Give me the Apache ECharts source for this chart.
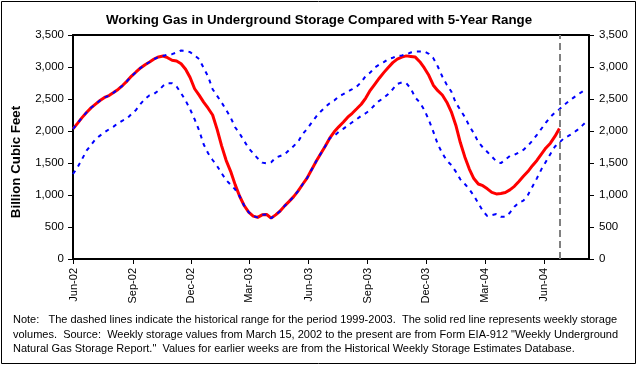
<!DOCTYPE html>
<html>
<head>
<meta charset="utf-8">
<script src="https://cdn.jsdelivr.net/npm/echarts@6/dist/echarts.min.js"></script>
<style>
html,body{margin:0;padding:0;background:#fff;}
#chart{width:638px;height:366px;}
</style>
</head>
<body>
<div id="chart"></div>
<script>
// ---- data (Bcf), weekly, week-ending Fridays starting 2002-05-31 ----
const firstWeekEnding = '2002-05-31';

const storage = [
  2033, 2120, 2209, 2290, 2362, 2420, 2477, 2524, 2553, 2600,
  2649, 2710, 2780, 2858, 2922, 2985, 3036, 3078, 3125, 3157,
  3172, 3145, 3106, 3093, 3050, 2965, 2835, 2660, 2560, 2452,
  2356, 2250, 2025, 1768, 1542, 1370, 1162, 980, 836, 732,
  670, 650, 690, 695, 638, 690, 750, 830, 900, 975,
  1065, 1168, 1268, 1397, 1528, 1646, 1762, 1888, 1987, 2065,
  2136, 2215, 2277, 2347, 2418, 2515, 2635, 2730, 2825, 2912,
  2993, 3068, 3124, 3155, 3174, 3165, 3155, 3083, 2985, 2870,
  2715, 2630, 2562, 2450, 2300, 2090, 1820, 1595, 1405, 1257,
  1172, 1145, 1097, 1040, 1017, 1023, 1039, 1080, 1135, 1212,
  1292, 1366, 1458, 1540, 1640, 1735, 1810, 1915, 2040
];

const rangeMax = [
  2033, 2120, 2209, 2290, 2362, 2420, 2477, 2524, 2553, 2600,
  2649, 2710, 2780, 2858, 2922, 2985, 3036, 3078, 3125, 3157,
  3172, 3196, 3201, 3227, 3258, 3253, 3232, 3180, 3125, 2987,
  2852, 2653, 2549, 2445, 2330, 2210, 2059, 1960, 1845, 1730,
  1652, 1573, 1506, 1495, 1511, 1584, 1610, 1636, 1704, 1766,
  1834, 1954, 2033, 2132, 2226, 2304, 2372, 2434, 2476, 2539,
  2575, 2617, 2653, 2695, 2763, 2862, 2914, 2992, 3039, 3076,
  3123, 3144, 3175, 3180, 3196, 3227, 3243, 3243, 3243, 3206,
  3139, 3008, 2852, 2721, 2617, 2440, 2330, 2218, 2078, 1965,
  1826, 1743, 1672, 1600, 1524, 1498, 1552, 1610, 1628, 1665,
  1704, 1770, 1850, 1940, 2035, 2130, 2220, 2288, 2340, 2403,
  2460, 2513, 2565, 2612, 2664
];

const rangeMin = [
  1328, 1432, 1558, 1693, 1782, 1871, 1928, 1980, 2027, 2069,
  2121, 2163, 2194, 2267, 2330, 2424, 2502, 2560, 2580, 2632,
  2706, 2747, 2747, 2695, 2591, 2476, 2340, 2184, 2010, 1793,
  1652, 1547, 1453, 1339, 1234, 1161, 1088, 980, 836, 732,
  670, 650, 690, 695, 638, 690, 750, 830, 900, 975,
  1065, 1168, 1268, 1397, 1528, 1646, 1762, 1888, 1925, 1986,
  2033, 2085, 2137, 2184, 2236, 2278, 2330, 2408, 2471, 2518,
  2580, 2653, 2737, 2758, 2747, 2664, 2523, 2445, 2330, 2173,
  1991, 1793, 1652, 1537, 1469, 1365, 1245, 1172, 1088, 989,
  869, 750, 671, 686, 702, 660, 660, 723, 817, 880,
  911, 1000, 1130, 1260, 1401, 1521, 1641, 1756, 1819, 1887,
  1923, 1965, 2017, 2080, 2147
];

const tickDates = ['2002-06-01','2002-09-01','2002-12-01','2003-03-01','2003-06-01',
                   '2003-09-01','2003-12-01','2004-03-01','2004-06-01'];
const monthNames = ['Jan','Feb','Mar','Apr','May','Jun','Jul','Aug','Sep','Oct','Nov','Dec'];
const axisStart = '2002-05-31';
const axisEnd = '2004-08-10';

const titleText = 'Working Gas in Underground Storage Compared with 5-Year Range';
const yName = 'Billion Cubic Feet';
const noteLines = [
  'Note:   The dashed lines indicate the historical range for the period 1999-2003.  The solid red line represents weekly storage',
  'volumes.  Source:  Weekly storage values from March 15, 2002 to the present are from Form EIA-912 "Weekly Underground',
  'Natural Gas Storage Report."  Values for earlier weeks are from the Historical Weekly Storage Estimates Database.'
];

// ---- build ----
const DAY = 86400000;
function utc(s){ const p = s.split('-').map(Number); return Date.UTC(p[0], p[1]-1, p[2]); }
const t0 = utc(firstWeekEnding);
function weekDate(i){ return t0 + i * 7 * DAY; }
function pairs(arr){ return arr.map((v, i) => [weekDate(i), v]); }
const tickVals = tickDates.map(utc);
const FONT = '"Liberation Sans", Arial, sans-serif';
function fmtNum(v){ return String(v).replace(/\B(?=(\d{3})+(?!\d))/g, ','); }
function fmtDate(v){ const d = new Date(v); return monthNames[d.getUTCMonth()] + '-' + String(d.getUTCFullYear()).slice(2); }

const chart = echarts.init(document.getElementById('chart'), null, {renderer: 'canvas'});

const yAxisCommon = {
  type: 'value', min: 0, max: 3500, interval: 500,
  axisLine: {show: true, lineStyle: {color: '#000', width: 2}},
  axisTick: {show: true, length: 5, lineStyle: {color: '#000', width: 1}},
  axisLabel: {color: '#000', fontSize: 11.5, fontFamily: FONT, margin: 9, formatter: fmtNum},
  splitLine: {show: false}
};

const option = {
  animation: false,
  backgroundColor: '#fff',
  title: {
    text: titleText, left: 'center', top: 9,
    textStyle: {fontSize: 13.3, fontWeight: 'bold', color: '#000', fontFamily: FONT}
  },
  grid: {left: 73, right: 49, top: 35, bottom: 107, containLabel: false},
  xAxis: [
    {
      type: 'value', position: 'bottom', min: utc(axisStart), max: utc(axisEnd),
      axisLine: {show: true, onZero: false, lineStyle: {color: '#000', width: 2}},
      axisTick: {show: true, length: 5, customValues: tickVals, lineStyle: {color: '#000', width: 1}},
      axisLabel: {show: true, rotate: 90, customValues: tickVals, formatter: fmtDate,
                  color: '#000', fontSize: 11, fontFamily: FONT, margin: 9},
      splitLine: {show: false}
    },
    {
      type: 'value', position: 'top', min: utc(axisStart), max: utc(axisEnd),
      axisLine: {show: true, onZero: false, lineStyle: {color: '#000', width: 2}},
      axisTick: {show: false}, axisLabel: {show: false}, splitLine: {show: false}
    }
  ],
  yAxis: [
    Object.assign({}, yAxisCommon, {position: 'left'}),
    Object.assign({}, yAxisCommon, {position: 'right', axisLabel: Object.assign({}, yAxisCommon.axisLabel, {margin: 10})})
  ],
  series: [
    {
      name: 'Working gas', type: 'line', xAxisIndex: 0, yAxisIndex: 0,
      data: pairs(storage), showSymbol: false, symbol: 'none', smooth: false,
      lineStyle: {color: '#ff0000', width: 3}, z: 2,
      markLine: {
        silent: true, symbol: ['none', 'none'], label: {show: false},
        lineStyle: {color: '#808080', width: 2, type: [7, 4]},
        data: [{xAxis: weekDate(storage.length - 1)}]
      }
    },
    {
      name: '5-year max', type: 'line', xAxisIndex: 0, yAxisIndex: 0,
      data: pairs(rangeMax), showSymbol: false, symbol: 'none',
      lineStyle: {color: '#0000ff', width: 2, type: [4, 5]}, z: 3
    },
    {
      name: '5-year min', type: 'line', xAxisIndex: 0, yAxisIndex: 0,
      data: pairs(rangeMin), showSymbol: false, symbol: 'none',
      lineStyle: {color: '#0000ff', width: 2, type: [4, 5]}, z: 3
    }
  ],
  graphic: [
    {type: 'rect', silent: true, shape: {x: 1.5, y: 1.5, width: 634, height: 362},
     style: {fill: 'none', stroke: '#000', lineWidth: 1}},
    {type: 'text', silent: true, x: 16, y: 162, rotation: Math.PI / 2,
     style: {text: yName, fill: '#000', font: 'bold 13.3px ' + FONT, textAlign: 'center', textVerticalAlign: 'middle'}},
    {type: 'text', silent: true, x: 13, y: 313,
     style: {text: noteLines.join('\n'), fill: '#000', font: '11px ' + FONT, lineHeight: 14.5}}
  ]
};
chart.setOption(option);
</script>
</body>
</html>
